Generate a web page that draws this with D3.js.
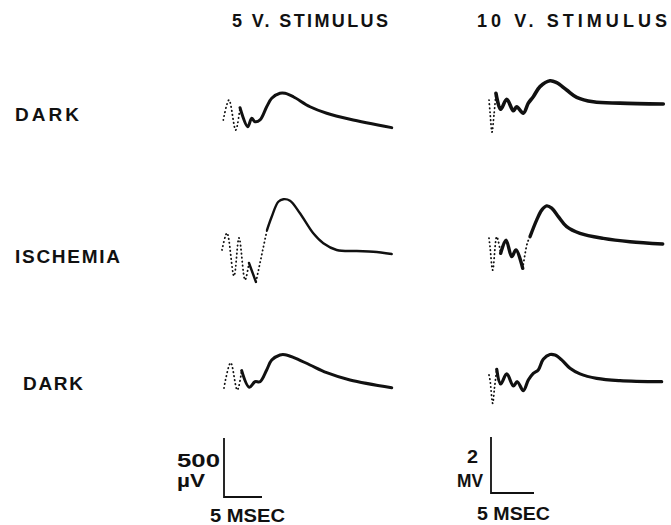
<!DOCTYPE html>
<html>
<head>
<meta charset="utf-8">
<script src="https://cdn.jsdelivr.net/npm/d3@7"></script>
<style>
  body { margin: 0; background: #fff; }
  text { font-family: "Liberation Sans", Arial, sans-serif; font-weight: bold; fill: #111; }
</style>
</head>
<body>
<svg width="671" height="525"></svg>
<script>
const columnTitles = ["5 V. STIMULUS", "10 V. STIMULUS"];
const rowLabels = ["DARK", "ISCHEMIA", "DARK"];
const scaleTimeMs = 5;
const scaleVolts = [500, 2];
const scaleVoltLabels = [["500", "\u00b5V"], ["2", "MV"]];
const scaleTimeLabel = "5 MSEC";

// traces: [time ms, amplitude (µV for 5 V, mV for 10 V), 1 = solid to next point, 0 = dotted]
const dark1_5V = [
  [0.17, 68, 0], [0.92, 237, 0], [1.8, -17, 0], [2.37, 172, 1], [3.38, 11, 1],
  [3.91, 82, 1], [4.34, 53, 1], [5.0, 68, 1], [5.88, 180, 1], [6.54, 252, 1],
  [7.63, 294, 1], [8.29, 294, 1], [9.38, 265, 1], [11.58, 180, 1], [13.78, 125, 1],
  [16.84, 74, 1], [22.33, 3, 1]
];
const ischemia_5V = [
  [0, 34, 0], [0.66, 178, 0], [1.58, -186, 0], [2.24, 136, 0], [3.03, -220, 0],
  [3.55, -76, 1], [4.47, -237, 0], [5.92, 203, 1], [6.54, 316, 1], [7.41, 443, 1],
  [8.07, 464, 1], [8.95, 452, 1], [10.26, 345, 1], [12.01, 175, 1], [13.33, 91, 1],
  [15.09, 34, 1], [17.72, 25, 1], [19.91, 19, 1], [22.33, 0, 1]
];
const dark2_5V = [
  [0.26, 0, 0], [1.14, 214, 0], [2.01, -17, 0], [2.59, 147, 1], [3.59, 6, 1],
  [4.34, 53, 1], [5.0, 53, 1], [5.88, 153, 1], [6.54, 237, 1], [7.63, 280, 1],
  [8.29, 282, 1], [9.38, 260, 1], [11.58, 195, 1], [13.78, 130, 1], [16.84, 68, 1],
  [22.33, 3, 1]
];
const dark1_10V = [
  [0, 0.14, 0], [0.12, -0.29, 0], [0.35, -1.0, 0], [0.58, -0.39, 0], [0.81, 0.38, 1],
  [1.36, -0.19, 1], [2.06, 0.17, 1], [2.83, -0.24, 1], [3.22, -0.1, 1], [3.99, -0.33, 1],
  [4.57, 0.03, 1], [5.15, 0.26, 1], [5.93, 0.62, 1], [7.09, 0.83, 1], [7.87, 0.76, 1],
  [9.03, 0.5, 1], [10.2, 0.24, 1], [12.13, 0.08, 1], [15.23, 0.03, 1], [20.27, 0, 1]
];
const ischemia_10V = [
  [0, 0.21, 0], [0.12, -0.1, 0], [0.43, -0.93, 0], [0.9, 0.26, 0], [1.36, -0.33, 1],
  [1.98, 0.14, 1], [2.64, -0.45, 1], [3.14, -0.21, 1], [3.92, -0.87, 0], [4.45, 0.03, 0],
  [4.77, 0.26, 1], [5.55, 0.86, 1], [6.13, 1.21, 1], [6.71, 1.36, 1], [7.29, 1.28, 1],
  [8.06, 0.98, 1], [9.03, 0.62, 1], [10.58, 0.38, 1], [13.29, 0.2, 1], [16.4, 0.08, 1],
  [20.2, 0, 1]
];
const dark2_10V = [
  [0, 0.25, 0], [0.12, 0.07, 0], [0.43, -0.76, 0], [0.64, -0.21, 0], [0.9, 0.45, 1],
  [1.36, -0.07, 1], [2.06, 0.29, 1], [2.83, -0.14, 1], [3.29, 0.01, 1], [3.99, -0.31, 1],
  [4.57, 0.07, 1], [5.15, 0.31, 1], [5.73, 0.43, 1], [6.31, 0.81, 1], [7.09, 0.98, 1],
  [7.67, 0.96, 1], [8.45, 0.79, 1], [9.42, 0.49, 1], [10.58, 0.29, 1], [12.52, 0.13, 1],
  [15.23, 0.05, 1], [20.08, 0.01, 1]
];
const traces = [[dark1_5V, ischemia_5V, dark2_5V], [dark1_10V, ischemia_10V, dark2_10V]];

// layout
const cols = [
  { x0: 222, pxPer5ms: 38, barPx: 59, baselines: [128, 254, 388], widths: [3, 2.4, 3],
    titleX: 232, titleLen: 156, barX: 224, barY: 497 },
  { x0: 489, pxPer5ms: 43, barPx: 56, baselines: [104, 244, 382], widths: [3.6, 3.4, 3.2],
    titleX: 477, titleLen: 190, barX: 491, barY: 493 }
];
const rowLayout = [
  { x: 15, y: 121, len: 64 },
  { x: 15, y: 263, len: 105 },
  { x: 23, y: 390, len: 60 }
];

const svg = d3.select("svg");

const line = d3.line()
  .x(d => d.x)
  .y(d => d.y)
  .curve(d3.curveCatmullRom.alpha(0.5));

// split trace into solid / dotted runs
function runs(pts) {
  const out = [];
  for (let i = 0; i < pts.length - 1; i++) {
    const s = pts[i][2];
    if (!out.length || out[out.length - 1].solid !== s) {
      out.push({ solid: s, pts: [pts[i]] });
    }
    out[out.length - 1].pts.push(pts[i + 1]);
  }
  return out;
}

cols.forEach((c, ci) => {
  svg.append("text")
    .attr("x", c.titleX).attr("y", 27)
    .attr("font-size", 18)
    .attr("textLength", c.titleLen).attr("lengthAdjust", "spacing")
    .text(columnTitles[ci]);

  const x = d3.scaleLinear().domain([0, scaleTimeMs]).range([c.x0, c.x0 + c.pxPer5ms]);

  traces[ci].forEach((tr, ri) => {
    const y = d3.scaleLinear().domain([0, scaleVolts[ci]])
      .range([c.baselines[ri], c.baselines[ri] - c.barPx]);
    runs(tr).forEach(r => {
      svg.append("path")
        .attr("d", line(r.pts.map(p => ({ x: x(p[0]), y: y(p[1]) }))))
        .attr("fill", "none")
        .attr("stroke", "#111")
        .attr("stroke-linecap", "round")
        .attr("stroke-width", r.solid ? c.widths[ri] : 1.8)
        .attr("stroke-dasharray", r.solid ? null : "0.4 3.6");
    });
  });

  // scale bar
  const bx = d3.scaleLinear().domain([0, scaleTimeMs]).range([c.barX, c.barX + c.pxPer5ms]);
  const by = d3.scaleLinear().domain([0, scaleVolts[ci]]).range([c.barY, c.barY - c.barPx]);
  svg.append("path")
    .attr("d", `M${bx(0)},${by(scaleVolts[ci])}V${by(0)}H${bx(scaleTimeMs)}`)
    .attr("fill", "none").attr("stroke", "#111").attr("stroke-width", 1.8);
});

rowLabels.forEach((l, i) => {
  svg.append("text")
    .attr("x", rowLayout[i].x).attr("y", rowLayout[i].y)
    .attr("font-size", 19)
    .attr("textLength", rowLayout[i].len).attr("lengthAdjust", "spacing")
    .text(l);
});

// scale bar labels
const barText = [
  [{ x: 177, y: 467, len: 43 }, { x: 177, y: 487, len: 28 }, { x: 210, y: 522, len: 75 }],
  [{ x: 467, y: 463, len: 11 }, { x: 457, y: 487, len: 26 }, { x: 477, y: 520, len: 73 }]
];
barText.forEach((bt, ci) => {
  const labels = [scaleVoltLabels[ci][0], scaleVoltLabels[ci][1], scaleTimeLabel];
  bt.forEach((p, k) => {
    svg.append("text")
      .attr("x", p.x).attr("y", p.y)
      .attr("font-size", 18)
      .attr("textLength", p.len).attr("lengthAdjust", "spacingAndGlyphs")
      .text(labels[k]);
  });
});
</script>
</body>
</html>
